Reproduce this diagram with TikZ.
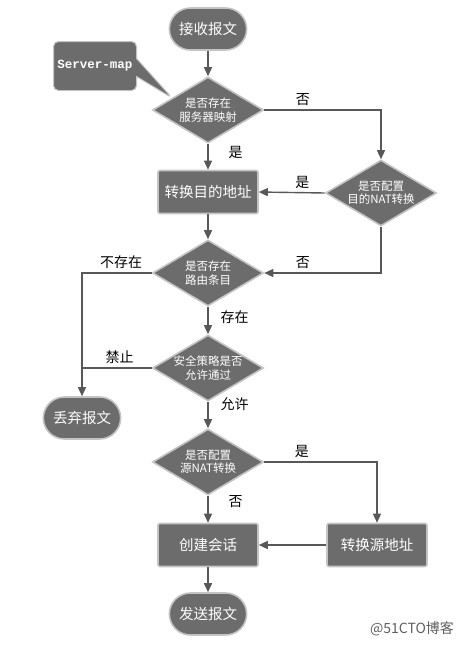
\documentclass[tikz,border=0pt]{standalone}
\usepackage{fontspec}
\setmainfont{Noto Sans CJK SC}
\setmonofont{Liberation Mono}
\usepackage{xcolor}
\usetikzlibrary{shapes.geometric, shapes.misc, shapes.callouts, arrows.meta, positioning, calc}
\definecolor{nodegray}{RGB}{108, 108, 108}
\definecolor{rimgray}{RGB}{196, 196, 196}
\definecolor{linegray}{RGB}{88, 88, 88}
\definecolor{markgray}{RGB}{95, 95, 95}

\begin{document}
\begin{tikzpicture}[x=1pt, y=-1pt]
    \tikzstyle{term} = [rounded rectangle, fill=nodegray, draw=rimgray, line width=1.6pt,
                        minimum width=84pt, minimum height=42pt,
                        text=white, font=\fontsize{14.5}{17}\selectfont]
    \tikzstyle{proc} = [rectangle, rounded corners=2pt, fill=nodegray, draw=rimgray, line width=1.6pt,
                        minimum width=100pt, minimum height=43pt,
                        text=white, font=\fontsize{14.5}{17}\selectfont]
    \tikzstyle{ask}  = [diamond, aspect=1.68, inner sep=0pt, fill=nodegray, draw=rimgray, line width=1.6pt,
                        minimum width=111pt, minimum height=66pt,
                        text=white, align=center, font=\fontsize{11.5}{13.5}\selectfont]
    \tikzstyle{arr}  = [-{Triangle[length=9pt, width=8pt]}, line width=1.4pt, color=linegray]
    \tikzstyle{merge} = [line width=1.4pt, color=linegray]
    \tikzstyle{lbl}  = [font=\fontsize{14}{16}\selectfont, text=black]

    \useasboundingbox (0,0) rectangle (470,646);

    %% Main column (x=208), right column (x=381/377), left column (x=82)
    \node[term]  at (208,29)  (recv) {接收报文};
    \node[ask]   at (208,110) (q1)   {是否存在\\服务器映射};
    \node[proc]  at (208,192) (dnat) {转换目的地址};
    \node[ask]   at (381,193) (q2)   {是否配置\\目的NAT转换};
    \node[ask]   at (208,273) (q3)   {是否存在\\路由条目};
    \node[ask]   at (208,368) (q4)   {安全策略是否\\允许通过};
    \node[term]  at (82,418)  (drop) {丢弃报文};
    \node[ask]   at (208,462) (q5)   {是否配置\\源NAT转换};
    \node[proc]  at (208,545) (sess) {创建会话};
    \node[proc]  at (377,545) (snat) {转换源地址};
    \node[term]  at (208,614) (send) {发送报文};

    %% Server-map note pointing at the first decision
    \node[rectangle callout, rounded corners=5pt, fill=nodegray, draw=rimgray, line width=1pt,
          minimum width=83pt, minimum height=49pt, callout pointer width=18pt,
          callout absolute pointer={($(q1.west)!0.36!(q1.north)$)},
          text=white, font=\ttfamily\bfseries\fontsize{12.5}{15}\selectfont]
          at (95,66) (smap) {Server-map};

    %% ── Destination NAT ────────────────────────────────────────────────────
    \draw[arr] (recv.south) -- (q1.north);
    \draw[arr] (q1.east) -| node[lbl, above, pos=0.165]{否} (q2.north);
    \draw[arr] (q1.south) -- node[lbl, right=16.5pt, pos=0.35]{是} (dnat.north);
    \draw[arr] (q2.west)  -- node[lbl, above, pos=0.34]{是} (dnat.east);
    \draw[arr] (q2.south) |- node[lbl, above, pos=0.835]{否} (q3.east);

    %% ── Routing and security policy ────────────────────────────────────────
    \draw[arr] (dnat.south) -- (q3.north);
    \draw[arr] (q3.west) -| node[lbl, above, pos=0.22]{不存在} (drop.north);
    \draw[arr] (q3.south) -- node[lbl, right=8.5pt, pos=0.375]{存在} (q4.north);
    \draw[merge] (q4.west) -- node[lbl, above, pos=0.46]{禁止} (q4.west -| drop.north);
    \draw[arr] (q4.south) -- node[lbl, right=8.5pt, pos=0.1]{允许} (q5.north);

    %% ── Source NAT and session ─────────────────────────────────────────────
    \draw[arr] (q5.east) -| node[lbl, above, pos=0.167]{是} (snat.north);
    \draw[arr] (q5.south) -- node[lbl, right=16.5pt, pos=0.2]{否} (sess.north);
    \draw[arr] (snat.west) -- (sess.east);
    \draw[arr] (sess.south) -- (send.north);

    \node[font=\fontsize{14}{16}\selectfont, text=markgray] at (412,629) (mark) {@51CTO博客};
\end{tikzpicture}
\end{document}
